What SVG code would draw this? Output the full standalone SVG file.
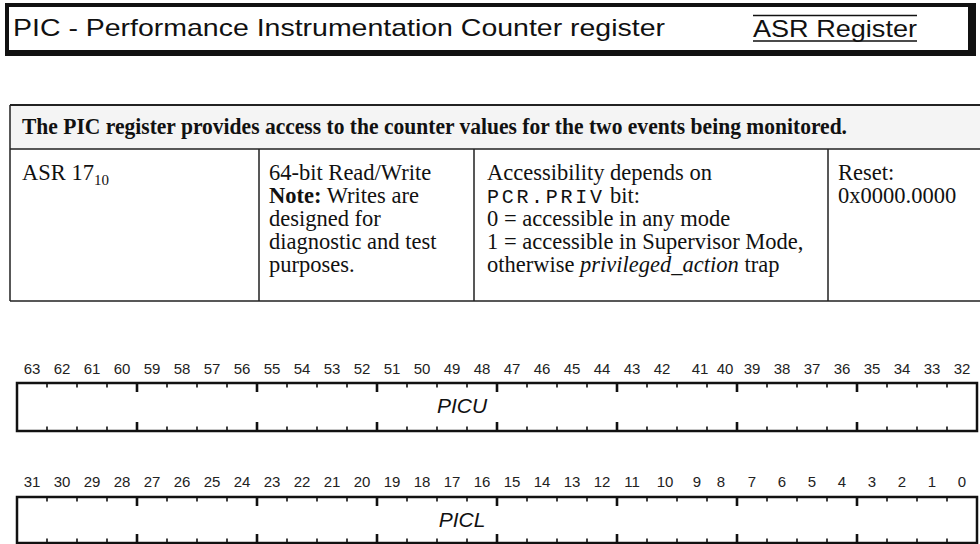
<svg xmlns="http://www.w3.org/2000/svg" xmlns:xlink="http://www.w3.org/1999/xlink" width="980" height="544" viewBox="0 0 980 544">
<style>
.sans{font-family:"Liberation Sans",Arial,sans-serif;fill:#111}
.serif{font-family:"Liberation Serif","Times New Roman",serif;fill:#111;font-size:22.5px}
.mono{font-family:"Liberation Mono","Courier New",monospace;font-size:20px;letter-spacing:2.7px;fill:#111}
.bit{font-family:"Liberation Sans",Arial,sans-serif;font-size:15px;fill:#222;text-anchor:middle}
.fname{font-family:"Liberation Sans",Arial,sans-serif;font-size:21px;font-style:italic;fill:#111;text-anchor:middle}
.tline{stroke:#222;stroke-width:1.5;fill:none}
.frame{fill:none;stroke:#111;stroke-width:2.5}
.minor{stroke:#111;stroke-width:1.6;fill:none}
.major{stroke:#111;stroke-width:2.6;fill:none}
</style>
<defs>
<g id="tt">
<path class="minor" d="M47 0v4.5M77 0v4.5M107 0v4.5M167 0v4.5M197 0v4.5M227 0v4.5M287 0v4.5M317 0v4.5M347 0v4.5M407 0v4.5M437 0v4.5M467 0v4.5M527 0v4.5M557 0v4.5M587 0v4.5M647 0v4.5M677 0v4.5M707 0v4.5M767 0v4.5M797 0v4.5M827 0v4.5M887 0v4.5M917 0v4.5M947 0v4.5"/>
<path class="major" d="M137 0v9M257 0v9M377 0v9M497 0v9M617 0v9M737 0v9M857 0v9"/>
</g>
<g id="tb">
<path class="minor" d="M47 0v-4.5M77 0v-4.5M107 0v-4.5M167 0v-4.5M197 0v-4.5M227 0v-4.5M287 0v-4.5M317 0v-4.5M347 0v-4.5M407 0v-4.5M437 0v-4.5M467 0v-4.5M527 0v-4.5M557 0v-4.5M587 0v-4.5M647 0v-4.5M677 0v-4.5M707 0v-4.5M767 0v-4.5M797 0v-4.5M827 0v-4.5M887 0v-4.5M917 0v-4.5M947 0v-4.5"/>
<path class="major" d="M137 0v-9M257 0v-9M377 0v-9M497 0v-9M617 0v-9M737 0v-9M857 0v-9"/>
</g>
</defs>
<rect width="980" height="544" fill="#fff"/>

<g id="title">
<path d="M5 3H976V56H5Z M9 7V50H968V7Z" fill="#111" fill-rule="evenodd"/>
<text class="sans" x="13" y="36" font-size="24" textLength="652" lengthAdjust="spacingAndGlyphs">PIC - Performance Instrumentation Counter register</text>
<text class="sans" x="753" y="37" font-size="24" textLength="164" lengthAdjust="spacingAndGlyphs">ASR Register</text>
<path d="M753 15.5H917M753 41H917" stroke="#111" stroke-width="1.5"/>
</g>

<g id="table">
<rect x="10" y="105" width="975" height="44" fill="#f4f4f4"/>
<path class="tline" d="M10 105H985M10 149H985M10 301H985M10 105V301M259 149V301M474 149V301M828 149V301"/>
<path d="M10 105H985" stroke="#222" stroke-width="2"/>
<text class="serif" x="22" y="134" font-size="22" font-weight="bold" textLength="825" lengthAdjust="spacingAndGlyphs">The PIC register provides access to the counter values for the two events being monitored.</text>
<text class="serif" x="22" y="180">ASR 17<tspan font-size="15" dy="5">10</tspan></text>
<text class="serif" x="269" y="180">64-bit Read/Write</text>
<text class="serif" x="269" y="203"><tspan font-weight="bold">Note:</tspan> Writes are</text>
<text class="serif" x="269" y="226">designed for</text>
<text class="serif" x="269" y="249">diagnostic and test</text>
<text class="serif" x="269" y="272">purposes.</text>
<text class="serif" x="487" y="180">Accessibility depends on</text>
<text class="mono" x="487" y="203">PCR.PRIV</text>
<text class="serif" x="610" y="203">bit:</text>
<text class="serif" x="487" y="226">0 = accessible in any mode</text>
<text class="serif" x="487" y="249">1 = accessible in Supervisor Mode,</text>
<text class="serif" x="487" y="272">otherwise <tspan font-style="italic">privileged_action</tspan> trap</text>
<text class="serif" x="838" y="180">Reset:</text>
<text class="serif" x="838" y="203">0x0000.0000</text>
</g>

<g id="field-picu">
<text class="bit" y="374"><tspan x="32">63</tspan><tspan x="62">62</tspan><tspan x="92">61</tspan><tspan x="122">60</tspan><tspan x="152">59</tspan><tspan x="182">58</tspan><tspan x="212">57</tspan><tspan x="242">56</tspan><tspan x="272">55</tspan><tspan x="302">54</tspan><tspan x="332">53</tspan><tspan x="362">52</tspan><tspan x="392">51</tspan><tspan x="422">50</tspan><tspan x="452">49</tspan><tspan x="482">48</tspan><tspan x="512">47</tspan><tspan x="542">46</tspan><tspan x="572">45</tspan><tspan x="602">44</tspan><tspan x="632">43</tspan><tspan x="662">42</tspan><tspan x="700">41</tspan><tspan x="725">40</tspan><tspan x="752">39</tspan><tspan x="782">38</tspan><tspan x="812">37</tspan><tspan x="842">36</tspan><tspan x="872">35</tspan><tspan x="902">34</tspan><tspan x="932">33</tspan><tspan x="962">32</tspan></text>
<rect class="frame" x="17" y="383" width="960" height="48"/>
<use xlink:href="#tt" y="383"/>
<use xlink:href="#tb" y="431"/>
<text class="fname" x="462" y="413">PICU</text>
</g>

<g id="field-picl">
<text class="bit" y="487"><tspan x="32">31</tspan><tspan x="62">30</tspan><tspan x="92">29</tspan><tspan x="122">28</tspan><tspan x="152">27</tspan><tspan x="182">26</tspan><tspan x="212">25</tspan><tspan x="242">24</tspan><tspan x="272">23</tspan><tspan x="302">22</tspan><tspan x="332">21</tspan><tspan x="362">20</tspan><tspan x="392">19</tspan><tspan x="422">18</tspan><tspan x="452">17</tspan><tspan x="482">16</tspan><tspan x="512">15</tspan><tspan x="542">14</tspan><tspan x="572">13</tspan><tspan x="602">12</tspan><tspan x="632">11</tspan><tspan x="665">10</tspan><tspan x="697">9</tspan><tspan x="721">8</tspan><tspan x="752">7</tspan><tspan x="782">6</tspan><tspan x="812">5</tspan><tspan x="842">4</tspan><tspan x="872">3</tspan><tspan x="902">2</tspan><tspan x="932">1</tspan><tspan x="962">0</tspan></text>
<rect class="frame" x="17" y="497" width="960" height="46"/>
<use xlink:href="#tt" y="497"/>
<use xlink:href="#tb" y="543"/>
<text class="fname" x="462" y="527">PICL</text>
</g>
</svg>
